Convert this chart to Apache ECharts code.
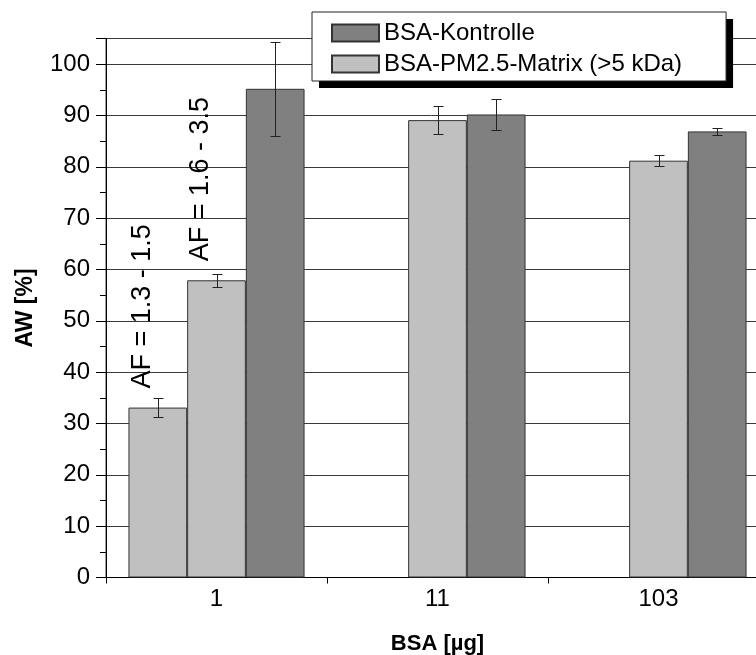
<!DOCTYPE html>
<html>
<head>
<meta charset="utf-8">
<script src="https://cdn.jsdelivr.net/npm/echarts@6/dist/echarts.min.js"></script>
<style>
html,body{margin:0;padding:0;background:#fff;}
#chart{width:756px;height:655px;}
</style>
</head>
<body>
<div id="chart"></div>
<script>
// ---- data ----
var categories = ['1', '11', '103'];
var matrixLow = [33.1, null, null];          // BSA-PM2.5-Matrix, AF = 1.3 - 1.5
var matrixHigh = [57.9, 89.1, 81.2];         // BSA-PM2.5-Matrix (>5 kDa)
var kontrolle = [95.2, 90.2, 86.9];          // BSA-Kontrolle
var errMatrixLow = [1.8, null, null];
var errMatrixHigh = [1.25, 2.7, 1.1];
var errKontrolle = [9.2, 3.05, 0.75];
var afLabelLow = ['AF = 1.3 - 1.5', '', ''];
var afLabelHigh = ['AF = 1.6 - 3.5', '', ''];
var yTicks = [0, 10, 20, 30, 40, 50, 60, 70, 80, 90, 100];

var NAME_MATRIX = 'BSA-PM2.5-Matrix (>5 kDa)';
var NAME_KONTROLLE = 'BSA-Kontrolle';
var FONT = '"Liberation Sans", Arial, Helvetica, sans-serif';
var BAR_W = 58.7;
var LIGHT = '#c0c0c0';
var DARK = '#808080';
var LINE = '#3a3a3a';

var chart = echarts.init(document.getElementById('chart'), null, {renderer: 'canvas'});

// error-bar data: [categoryIndex, value, error, slot]
var errData = [];
[[matrixLow, errMatrixLow, 0], [matrixHigh, errMatrixHigh, 1], [kontrolle, errKontrolle, 2]].forEach(function (s) {
  s[0].forEach(function (v, i) {
    if (v != null && s[1][i] != null) errData.push([i, v, s[1][i], s[2]]);
  });
});

function afLabel(arr) {
  return {
    show: true,
    position: 'top',
    distance: 19,
    rotate: 90,
    align: 'left',
    verticalAlign: 'middle',
    offset: [0, -15.5],
    fontFamily: FONT,
    fontSize: 27,
    color: '#000',
    formatter: function (p) { return arr[p.dataIndex] || ''; }
  };
}

var legendBase = {
  orient: 'vertical',
  left: 312, top: 12,
  data: [NAME_KONTROLLE, NAME_MATRIX],
  icon: 'rect',
  itemWidth: 47, itemHeight: 17, itemGap: 7,
  padding: [9, 44, 5, 19],
  selectedMode: false
};

var option = {
  animation: false,
  backgroundColor: '#fff',
  textStyle: {fontFamily: FONT},
  grid: {
    left: 106, top: 38.5, width: 663, height: 539,
    show: true, borderColor: LINE, borderWidth: 1, backgroundColor: 'transparent',
    containLabel: false,
    outerBoundsMode: 'none'
  },
  legend: [
    // shadow + white background layer
    Object.assign({}, legendBase, {
      z: 4,
      backgroundColor: '#fff',
      borderWidth: 0,
      shadowColor: '#000', shadowBlur: 0, shadowOffsetX: 7, shadowOffsetY: 7,
      itemStyle: {opacity: 0},
      textStyle: {fontFamily: FONT, fontSize: 24, color: 'rgba(0,0,0,0)', lineHeight: 24}
    }),
    // visible items + border
    Object.assign({}, legendBase, {
      z: 5,
      backgroundColor: 'transparent',
      borderColor: '#222', borderWidth: 1,
      textStyle: {fontFamily: FONT, fontSize: 24, color: '#000', lineHeight: 24}
    })
  ],
  xAxis: {
    type: 'category',
    data: categories,
    axisLine: {show: true, lineStyle: {color: '#000', width: 1}},
    axisTick: {show: true, length: 6, alignWithLabel: false, lineStyle: {color: '#000'}},
    axisLabel: {fontFamily: FONT, fontSize: 24, color: '#000', margin: 10},
    splitLine: {show: false},
    name: 'BSA [µg]',
    nameLocation: 'middle',
    nameGap: 55,
    nameTextStyle: {fontFamily: FONT, fontSize: 22, fontWeight: 'bold', color: '#000'}
  },
  yAxis: {
    type: 'value',
    min: 0, max: 105, interval: 10,
    axisLine: {show: true, lineStyle: {color: '#000', width: 1}},
    axisTick: {show: true, length: 10, inside: false, lineStyle: {color: '#000'}},
    minorTick: {show: true, splitNumber: 2, length: 6, lineStyle: {color: '#000'}},
    splitLine: {show: true, lineStyle: {color: LINE, width: 1}},
    axisLabel: {
      fontFamily: FONT, fontSize: 24, color: '#000', margin: 16,
      formatter: function (v) { return yTicks.indexOf(v) >= 0 ? String(v) : ''; }
    },
    name: 'AW [%]',
    nameLocation: 'middle',
    nameGap: 69,
    nameTextStyle: {fontFamily: FONT, fontSize: 23, fontWeight: 'bold', color: '#000'}
  },
  series: [
    {
      name: NAME_MATRIX, type: 'bar', data: matrixLow, barWidth: BAR_W, barGap: '0%', z: 2,
      itemStyle: {color: LIGHT, borderColor: '#333', borderWidth: 1},
      label: afLabel(afLabelLow)
    },
    {
      name: NAME_MATRIX, type: 'bar', data: matrixHigh, barWidth: BAR_W, barGap: '0%', z: 2,
      itemStyle: {color: LIGHT, borderColor: '#333', borderWidth: 1},
      label: afLabel(afLabelHigh)
    },
    {
      name: NAME_KONTROLLE, type: 'bar', data: kontrolle, barWidth: BAR_W, barGap: '0%', z: 2,
      itemStyle: {color: DARK, borderColor: '#333', borderWidth: 1}
    },
    {
      type: 'custom', z: 5, silent: true,
      data: errData,
      renderItem: function (params, api) {
        var idx = api.value(0), v = api.value(1), e = api.value(2), slot = api.value(3);
        var c = api.coord([idx, v]);
        var x = Math.round(c[0] + (slot - 1) * BAR_W) + 0.5;
        var yt = Math.round(api.coord([idx, v + e])[1]) + 0.5;
        var yb = Math.round(api.coord([idx, v - e])[1]) + 0.5;
        var hw = 5;
        var st = {stroke: '#222', lineWidth: 1};
        return {
          type: 'group',
          children: [
            {type: 'line', shape: {x1: x, y1: yt, x2: x, y2: yb}, style: st},
            {type: 'line', shape: {x1: x - hw, y1: yt, x2: x + hw, y2: yt}, style: st},
            {type: 'line', shape: {x1: x - hw, y1: yb, x2: x + hw, y2: yb}, style: st}
          ]
        };
      }
    }
  ]
};
chart.setOption(option);
</script>
</body>
</html>
